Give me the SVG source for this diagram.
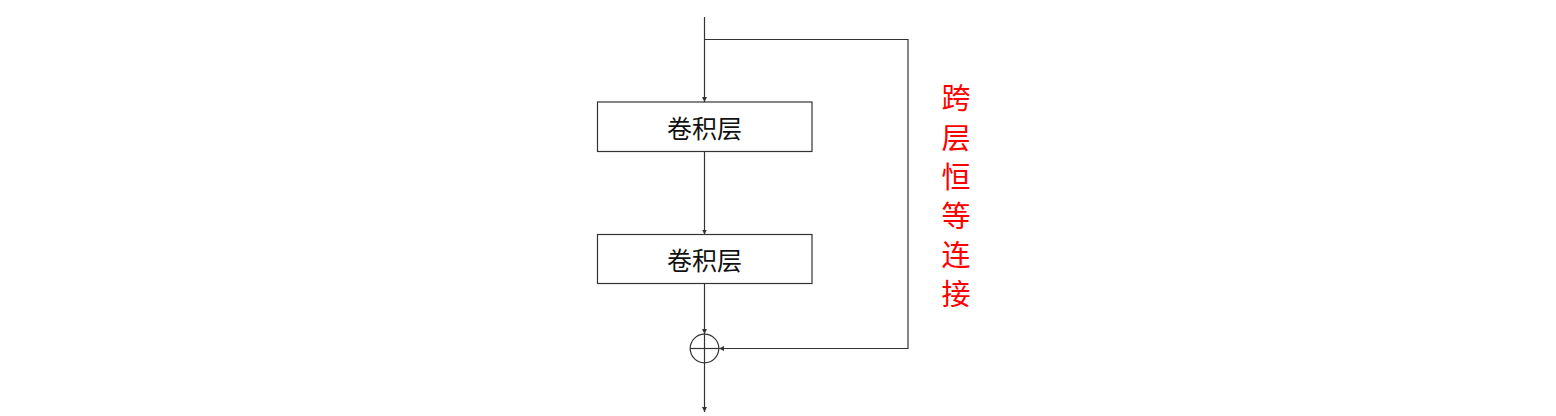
<svg xmlns="http://www.w3.org/2000/svg" width="1556" height="416" viewBox="0 0 1556 416">
<style>
.ln{fill:none;stroke:#333;stroke-width:1.2}
.box{fill:#fff;stroke:#333;stroke-width:1.2}
.lbl{font-family:"Noto Sans CJK SC","Noto Sans",sans-serif;font-size:25px;fill:#111;text-anchor:middle;dominant-baseline:central}
.red{font-family:"Noto Sans CJK SC","Noto Sans",sans-serif;font-size:29px;fill:#f00;text-anchor:middle;dominant-baseline:central}
</style>
<defs>
<marker id="ah" viewBox="0 0 10 10" refX="10" refY="5" markerWidth="5" markerHeight="5" orient="auto" markerUnits="userSpaceOnUse">
<path d="M0,0 L10,5 L0,10 z" fill="#333"/>
</marker>
</defs>
<rect width="1556" height="416" fill="#fff"/>
<g id="connectors">
<line class="ln" x1="704.5" y1="17" x2="704.5" y2="102" marker-end="url(#ah)"/>
<polyline class="ln" points="704.5,39.5 908,39.5 908,348.5 719,348.5" marker-end="url(#ah)"/>
<line class="ln" x1="704.5" y1="151.5" x2="704.5" y2="234.5" marker-end="url(#ah)"/>
<line class="ln" x1="704.5" y1="283.5" x2="704.5" y2="334" marker-end="url(#ah)"/>
<line class="ln" x1="704.5" y1="363" x2="704.5" y2="412" marker-end="url(#ah)"/>
</g>
<g id="conv1">
<rect class="box" x="597.5" y="102" width="214.5" height="49.5"/>
<text class="lbl" x="704.5" y="127">卷积层</text>
</g>
<g id="conv2">
<rect class="box" x="597.5" y="234.5" width="214.5" height="49"/>
<text class="lbl" x="704.5" y="259">卷积层</text>
</g>
<g id="sum">
<circle class="ln" cx="704.5" cy="348.5" r="14.3"/>
<line class="ln" x1="690.2" y1="348.5" x2="718.8" y2="348.5"/>
<line class="ln" x1="704.5" y1="334.2" x2="704.5" y2="362.8"/>
</g>
<g id="skip-label">
<text class="red" x="956" y="96">跨</text>
<text class="red" x="956" y="136">层</text>
<text class="red" x="956" y="175">恒</text>
<text class="red" x="956" y="214">等</text>
<text class="red" x="956" y="253">连</text>
<text class="red" x="956" y="292">接</text>
</g>
</svg>
